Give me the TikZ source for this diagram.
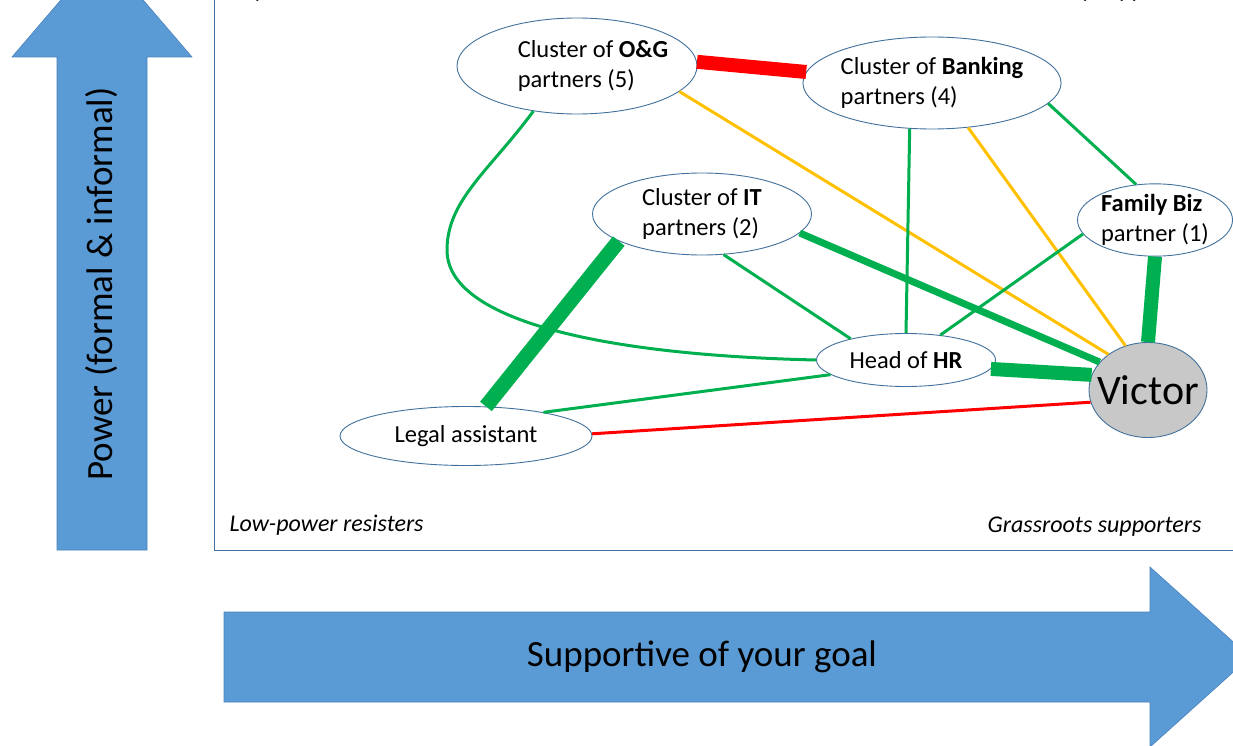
\documentclass[tikz,border=0pt]{standalone}
\usepackage{fontspec}
\setmainfont{Carlito}
\usetikzlibrary{shapes.geometric}
\definecolor{pmblue}{RGB}{91,155,213}
\definecolor{pmblueedge}{RGB}{72,130,190}
\definecolor{pmline}{RGB}{65,113,156}
\definecolor{pmgreen}{RGB}{0,176,80}
\definecolor{pmamber}{RGB}{255,192,0}
\definecolor{pmred}{RGB}{255,0,0}
\definecolor{pmgray}{RGB}{200,200,200}

\begin{document}
\begin{tikzpicture}[x=1pt,y=-1pt,
  actor/.style={ellipse,draw=pmline,fill=white,line width=0.9pt,inner sep=0pt,
                align=left,font=\fontsize{24.5}{30}\selectfont},
  corner/.style={font=\fontsize{24}{29}\selectfont\itshape},
  axislbl/.style={font=\fontsize{37}{44}\selectfont},
  tie/.style={pmgreen,line width=3pt},
  weak/.style={pmamber,line width=3pt},
  clash/.style={pmred,line width=3pt}
]
  \useasboundingbox (0,0) rectangle (1233,746);

  % axes
  \fill[pmblue,draw=pmblueedge,line width=0.6pt] (57,550) -- (57,57) -- (12,57) -- (102,-48)
    -- (192,57) -- (147,57) -- (147,550) -- cycle;
  \fill[pmblue,draw=pmblueedge,line width=0.6pt] (224,612) -- (1150,612) -- (1150,567) -- (1250,657)
    -- (1150,747) -- (1150,702) -- (224,702) -- cycle;
  \node[axislbl,rotate=90] (power) at (102,284) {Power (formal \& informal)};
  \node[axislbl] (support) at (702,657) {Supportive of your goal};

  % quadrant frame
  \draw[pmline,line width=1pt] (214,-5) -- (214,550) -- (1240,550);
  \node[corner,anchor=base west] (keyres) at (228,-2) {Key resisters};
  \node[corner,anchor=base east] (keysup) at (1206,-2) {Key supporters};
  \node[corner,anchor=west] (lowres) at (226,525) {Low-power resisters};
  \node[corner,anchor=east] (grass) at (1205,527) {Grassroots supporters};

  % stakeholders
  \node[actor,inner xsep=-8pt,minimum width=240pt,minimum height=96pt] (og) at (577,66)
    {\hspace*{32pt}Cluster of \textbf{O\&G}\\\hspace*{32pt}partners (5)};
  \node[actor,minimum width=250pt,minimum height=92pt] (bank) at (932,83)
    {Cluster of \textbf{Banking}\\partners (4)};
  \node[actor,minimum width=219pt,minimum height=82pt] (it) at (702,214)
    {Cluster of \textbf{IT}\\partners (2)};
  \node[actor,minimum width=155pt,minimum height=72pt] (fam) at (1155,220)
    {\textbf{Family Biz}\\partner (1)};
  \node[actor,minimum width=179pt,minimum height=53pt] (hr) at (906,360)
    {Head of \textbf{HR}};
  \node[actor,minimum width=252pt,minimum height=59pt] (legal) at (466,436)
    {Legal assistant};
  \node[actor,fill=pmgray,inner xsep=-10pt,minimum width=118pt,minimum height=95pt,
        font=\fontsize{42}{50}\selectfont] (vic) at (1148,390) {Victor};

  % relationships
  \draw[clash,line width=14pt] (og.2) -- (bank.175);
  \draw[weak] (og.-14) -- (vic.138);
  \draw[tie] (og.226) .. controls (490,170) and (447,200) .. (447,250)
    .. controls (447,320) and (600,355) .. (hr.west);
  \draw[tie] (bank.244) -- (hr.north);
  \draw[weak] (bank.-51) -- (vic.117);
  \draw[tie] (bank.-10) -- (fam.118);
  \draw[tie,line width=14pt] (fam.south) -- (vic.north);
  \draw[tie] (fam.191) -- (hr.36);
  \draw[tie,line width=7pt] (it.-11) -- (vic.150);
  \draw[tie] (it.-62) -- (hr.159);
  \draw[tie,line width=15pt] (it.198) -- (legal.56);
  \draw[tie,line width=14pt] (hr.-6) -- (vic.165);
  \draw[tie] (hr.191) -- (legal.17);
  \draw[clash] (legal.1) -- (vic.192);
\end{tikzpicture}
\end{document}
